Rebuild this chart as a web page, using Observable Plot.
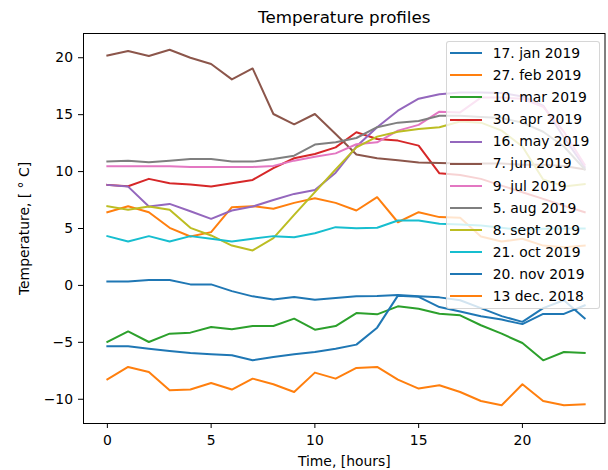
<!DOCTYPE html>
<html>
<head>
<meta charset="utf-8">
<script src="https://cdn.jsdelivr.net/npm/d3@7"></script>
<script src="https://cdn.jsdelivr.net/npm/@observablehq/plot@0.6"></script>
<style>
  body { margin: 0; background: #fff; }
  #wrap { position: relative; width: 608px; height: 470px; }
  svg { display: block; }
  #legend {
    position: absolute; box-sizing: border-box;
    background: rgba(255,255,255,0.8);
    border: 1px solid rgba(204,204,204,0.8);
    border-radius: 3px;
    font-family: 'DejaVu Sans', sans-serif; color: #000;
  }
  .sw { position: absolute; height: 2px; }
  .lab { position: absolute; white-space: nowrap; }
</style>
</head>
<body>
<div id="wrap"></div>
<script>
const title = "Temperature profiles";
const xLabel = "Time, [hours]";
const yLabel = "Temperature, [ ° C]";
const xTicks = [0, 5, 10, 15, 20];
const yTicks = [-10, -5, 0, 5, 10, 15, 20];
const hours = [0,1,2,3,4,5,6,7,8,9,10,11,12,13,14,15,16,17,18,19,20,21,22,23];

const labels = ["17. jan 2019","27. feb 2019","10. mar 2019","30. apr 2019","16. may 2019","7. jun 2019",
                "9. jul 2019","5. aug 2019","8. sept 2019","21. oct 2019","20. nov 2019","13 dec. 2018"];
const colors = ["#1f77b4","#ff7f0e","#2ca02c","#d62728","#9467bd","#8c564b",
                "#e377c2","#7f7f7f","#bcbd22","#17becf","#1f77b4","#ff7f0e"];

const jan17 = [0.35,0.35,0.47,0.47,0.09,0.09,-0.5,-0.96,-1.23,-1.02,-1.26,-1.11,-0.96,-0.94,-0.85,-0.96,-1.05,-1.3,-2.0,-2.7,-3.2,-2.0,-1.3,-2.9];
const feb27 = [6.43,6.96,6.43,5.06,4.3,4.68,6.87,6.96,6.73,7.25,7.66,7.25,6.58,7.75,5.55,6.43,6.0,5.94,4.3,3.86,4.1,3.5,3.36,3.5];
const mar10 = [-4.97,-4.04,-4.97,-4.24,-4.15,-3.65,-3.86,-3.57,-3.57,-2.92,-3.89,-3.57,-2.43,-2.54,-1.84,-2.05,-2.49,-2.63,-3.5,-4.24,-5.06,-6.58,-5.85,-5.94];
const apr30 = [8.83,8.71,9.36,8.97,8.86,8.68,8.97,9.27,10.3,11.17,11.55,12.13,13.45,12.86,12.72,12.28,9.85,9.7,9.36,8.77,8.18,7.6,7.0,6.43];
const may16 = [8.83,8.68,6.93,7.16,6.52,5.85,6.58,6.93,7.5,8.04,8.39,9.9,12.2,13.9,15.35,16.4,16.8,16.95,16.95,16.9,16.6,15.8,13.0,10.4];
const jun7  = [20.2,20.6,20.15,20.7,20.0,19.45,18.1,19.06,15.06,14.15,15.06,13.3,11.5,11.17,11.0,10.8,10.75,10.7,10.7,10.7,10.6,10.6,10.5,10.2];
const jul9  = [10.47,10.47,10.47,10.47,10.4,10.4,10.4,10.4,10.5,10.96,11.3,11.6,12.4,12.57,13.6,14.1,15.26,15.2,16.5,16.5,16.4,15.7,13.5,10.6];
const aug5  = [10.88,10.96,10.82,10.96,11.1,11.1,10.88,10.88,11.1,11.4,12.37,12.57,12.95,13.9,14.3,14.45,14.9,14.9,14.8,14.7,14.3,13.5,12.2,10.2];
const sept8 = [6.96,6.64,6.93,6.64,5.06,4.39,3.5,3.07,4.15,6.2,8.2,10.2,12.13,13.07,13.5,13.74,13.9,14.4,14.3,13.6,12.2,9.3,8.7,8.9];
const oct21 = [4.33,3.86,4.33,3.86,4.33,4.09,3.86,4.1,4.33,4.24,4.59,5.12,5.03,5.06,5.7,5.7,5.41,5.35,5.26,5.06,4.88,4.97,5.0,5.0];
const nov20 = [-5.35,-5.35,-5.56,-5.76,-5.94,-6.05,-6.14,-6.58,-6.29,-6.05,-5.85,-5.56,-5.2,-3.71,-0.9,-1.0,-1.9,-2.3,-2.7,-3.0,-3.4,-2.5,-2.5,-1.75];
const dec13 = [-8.25,-7.16,-7.6,-9.21,-9.15,-8.57,-9.15,-8.19,-8.68,-9.36,-7.66,-8.19,-7.25,-7.16,-8.28,-9.06,-8.77,-9.36,-10.15,-10.53,-8.68,-10.15,-10.53,-10.44];

const seriesValues = [jan17, feb27, mar10, apr30, may16, jun7, jul9, aug5, sept8, oct21, nov20, dec13];

const data = [];
seriesValues.forEach((vals, i) => {
  vals.forEach((v, h) => data.push({series: labels[i], hour: hours[h], temp: v}));
});

const font = "'DejaVu Sans', sans-serif";
const fs = 13.9;

const chart = Plot.plot({
  width: 608,
  height: 470,
  marginLeft: 83,
  marginRight: 3.5,
  marginTop: 33,
  marginBottom: 47,
  style: {fontFamily: font, fontSize: fs + "px", color: "#000", background: "#fff", overflow: "visible"},
  x: {domain: [-1.15, 23.98]},
  y: {domain: [-12.13, 22.13]},
  color: {type: "ordinal", domain: labels, range: colors},
  marks: [
    Plot.line(data, {x: "hour", y: "temp", z: "series", stroke: "series", strokeWidth: 2, strokeLinejoin: "round", strokeLinecap: "square"}),
    Plot.frame({stroke: "#000", strokeWidth: 1}),
    Plot.axisX({ticks: xTicks, tickSize: 5, tickPadding: 7, label: null, fontSize: fs, stroke: "#000"}),
    Plot.axisY({ticks: yTicks, tickSize: 5, tickPadding: 5.5, label: null, fontSize: fs, stroke: "#000"}),
    Plot.text([xLabel], {text: d => d, frameAnchor: "bottom", lineAnchor: "middle", textAnchor: "middle", dy: 38, fontSize: fs, fill: "#000"}),
    Plot.text([yLabel], {text: d => d, frameAnchor: "left", lineAnchor: "middle", textAnchor: "middle", dx: -59, rotate: -90, fontSize: fs, fill: "#000"}),
    Plot.text([title], {text: d => d, frameAnchor: "top", lineAnchor: "middle", textAnchor: "middle", dy: -16, fontSize: 16.7, fill: "#000"})
  ]
});

const wrap = document.getElementById("wrap");
wrap.appendChild(chart);

// Legend (matplotlib-style, upper right inside axes), as an overlay
const lx = 445.7, ly = 40.7, lw = 154.3, lh = 268.3, row0 = 11.6, rowStep = 22.1;
const legend = document.createElement("div");
legend.id = "legend";
Object.assign(legend.style, {left: lx + "px", top: ly + "px", width: lw + "px", height: lh + "px", fontSize: fs + "px"});
labels.forEach((lab, i) => {
  const cy = row0 + i * rowStep;
  const sw = document.createElement("div");
  sw.className = "sw";
  Object.assign(sw.style, {left: "3px", width: "32px", top: (cy - 1) + "px", background: colors[i]});
  const tx = document.createElement("div");
  tx.className = "lab";
  tx.textContent = lab;
  Object.assign(tx.style, {left: "46px", top: (cy - fs * 0.6) + "px", lineHeight: (fs * 1.2) + "px"});
  legend.appendChild(sw);
  legend.appendChild(tx);
});
wrap.appendChild(legend);
</script>
</body>
</html>
